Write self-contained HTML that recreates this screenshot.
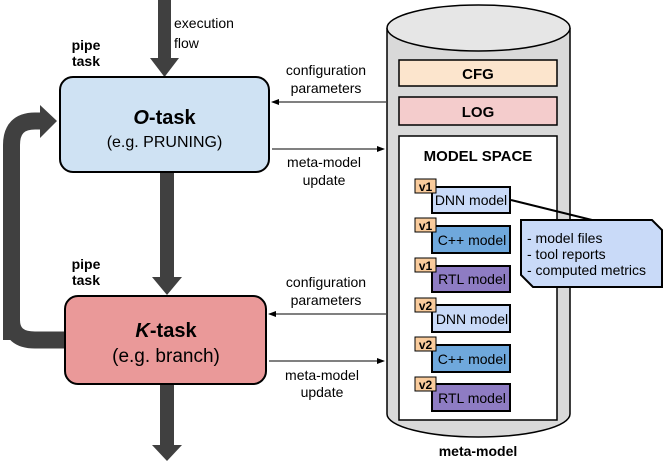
<!DOCTYPE html>
<html><head><style>
html,body{margin:0;padding:0;background:#fff;}
svg{display:block;font-family:"Liberation Sans",Arial,sans-serif;}
</style></head><body>
<svg width="664" height="461" viewBox="0 0 664 461" xmlns="http://www.w3.org/2000/svg">
<defs>
<marker id="ah" markerWidth="8" markerHeight="6" refX="7" refY="3" orient="auto" markerUnits="userSpaceOnUse">
<path d="M0,0 L8,3 L0,6 z" fill="#000"/></marker>
</defs>
<!-- cylinder -->
<path d="M387,28 L387,414 A91.5,23 0 0 0 570,414 L570,28" fill="#d9d9d9" stroke="#000" stroke-width="1.5"/>
<ellipse cx="478.5" cy="28" rx="91.5" ry="23" fill="#e6e6e6" stroke="#000" stroke-width="1.5"/>
<rect x="399" y="60" width="158" height="26" fill="#fce5cd" stroke="#000" stroke-width="1.5"/>
<text x="478" y="79" font-size="15" font-weight="bold" text-anchor="middle">CFG</text>
<rect x="399" y="97" width="158" height="28" fill="#f4cccc" stroke="#000" stroke-width="1.5"/>
<text x="478" y="117" font-size="15" font-weight="bold" text-anchor="middle">LOG</text>
<rect x="399" y="136" width="158" height="284" fill="#fff" stroke="#000" stroke-width="1.5"/>
<text x="478" y="161" font-size="15" font-weight="bold" text-anchor="middle">MODEL SPACE</text>
<text x="478" y="456" font-size="14" font-weight="bold" text-anchor="middle">meta-model</text>

<g font-size="14">
<rect x="432" y="187" width="78" height="26" fill="#c9daf8" stroke="#000" stroke-width="2"/><text x="471" y="205" text-anchor="middle">DNN model</text>
<rect x="432" y="226" width="78" height="27" fill="#6fa8dc" stroke="#000" stroke-width="2"/><text x="472" y="245" text-anchor="middle">C++ model</text>
<rect x="432" y="266" width="78" height="26" fill="#8e7cc3" stroke="#000" stroke-width="2"/><text x="472" y="284" text-anchor="middle">RTL model</text>
<rect x="432" y="305" width="78" height="27" fill="#c9daf8" stroke="#000" stroke-width="2"/><text x="472" y="324" text-anchor="middle">DNN model</text>
<rect x="432" y="345" width="78" height="27" fill="#6fa8dc" stroke="#000" stroke-width="2"/><text x="472" y="364" text-anchor="middle">C++ model</text>
<rect x="432" y="384" width="78" height="27" fill="#8e7cc3" stroke="#000" stroke-width="2"/><text x="472" y="403" text-anchor="middle">RTL model</text>
</g>
<g font-size="12" font-weight="bold" text-anchor="middle">
<rect x="415" y="179" width="21" height="14" fill="#f9cb9c" stroke="#000"/><text x="425.5" y="191">v1</text>
<rect x="415" y="218" width="21" height="14" fill="#f9cb9c" stroke="#000"/><text x="425.5" y="230">v1</text>
<rect x="415" y="258" width="21" height="14" fill="#f9cb9c" stroke="#000"/><text x="425.5" y="270">v1</text>
<rect x="415" y="298" width="21" height="14" fill="#f9cb9c" stroke="#000"/><text x="425.5" y="310">v2</text>
<rect x="415" y="337" width="21" height="14" fill="#f9cb9c" stroke="#000"/><text x="425.5" y="349">v2</text>
<rect x="415" y="377" width="21" height="14" fill="#f9cb9c" stroke="#000"/><text x="425.5" y="389">v2</text>
</g>
<!-- callout -->
<line x1="511" y1="200" x2="592" y2="220" stroke="#000" stroke-width="2"/>
<path d="M521,220 L652,220 L662,230 L662,287 L533,287 L521,275 Z" fill="#c9daf8" stroke="#000" stroke-width="2"/>
<text x="527" y="243" font-size="14">- model files</text>
<text x="527" y="259" font-size="14">- tool reports</text>
<text x="527" y="275" font-size="14">- computed metrics</text>

<!-- thick arrows -->
<g fill="#404040">
<rect x="158" y="0" width="13" height="58"/><path d="M150,58 L179,58 L164.5,77 Z"/>
<rect x="160" y="172" width="14" height="106"/><path d="M152,277 L182,277 L167,295 Z"/>
<rect x="160" y="384" width="14" height="62"/><path d="M152,445 L182,445 L167,461 Z"/>
<path d="M40,105 L57,121 L40,138 Z"/>
</g>
<path d="M11.5,340 L11.5,145 Q11.5,121 35,121 L42,121 M11.5,320 Q11.5,340 35,340 L66,340" fill="none" stroke="#404040" stroke-width="17"/>

<!-- task boxes -->
<rect x="60" y="77" width="209" height="95" rx="13" fill="#cfe2f3" stroke="#000" stroke-width="2"/>
<text x="164.5" y="124" font-size="20" font-weight="bold" text-anchor="middle"><tspan font-style="italic">O</tspan>-task</text>
<text x="164.5" y="147" font-size="16" text-anchor="middle">(e.g. PRUNING)</text>
<rect x="65" y="296" width="201" height="88" rx="13" fill="#ea9999" stroke="#000" stroke-width="2"/>
<text x="166" y="337" font-size="20" font-weight="bold" text-anchor="middle"><tspan font-style="italic">K</tspan>-task</text>
<text x="166" y="362" font-size="19" text-anchor="middle">(e.g. branch)</text>

<g font-size="14">
<text x="174" y="28">execution</text><text x="174" y="48">flow</text>
<text x="86" y="50" font-weight="bold" text-anchor="middle">pipe</text><text x="86" y="66" font-weight="bold" text-anchor="middle">task</text>
<text x="86" y="269" font-weight="bold" text-anchor="middle">pipe</text><text x="86" y="285" font-weight="bold" text-anchor="middle">task</text>
<text x="326" y="75" text-anchor="middle">configuration</text><text x="326" y="93" text-anchor="middle">parameters</text>
<text x="324" y="167" text-anchor="middle">meta-model</text><text x="324" y="185" text-anchor="middle">update</text>
<text x="326" y="287" text-anchor="middle">configuration</text><text x="326" y="305" text-anchor="middle">parameters</text>
<text x="322" y="380" text-anchor="middle">meta-model</text><text x="322" y="397" text-anchor="middle">update</text>
</g>
<g stroke="#000" stroke-width="1">
<line x1="386" y1="102" x2="272" y2="102" marker-end="url(#ah)"/>
<line x1="272" y1="149" x2="384" y2="149" marker-end="url(#ah)"/>
<line x1="386" y1="314" x2="269" y2="314" marker-end="url(#ah)"/>
<line x1="269" y1="361" x2="384" y2="361" marker-end="url(#ah)"/>
</g>
</svg>
</body></html>
